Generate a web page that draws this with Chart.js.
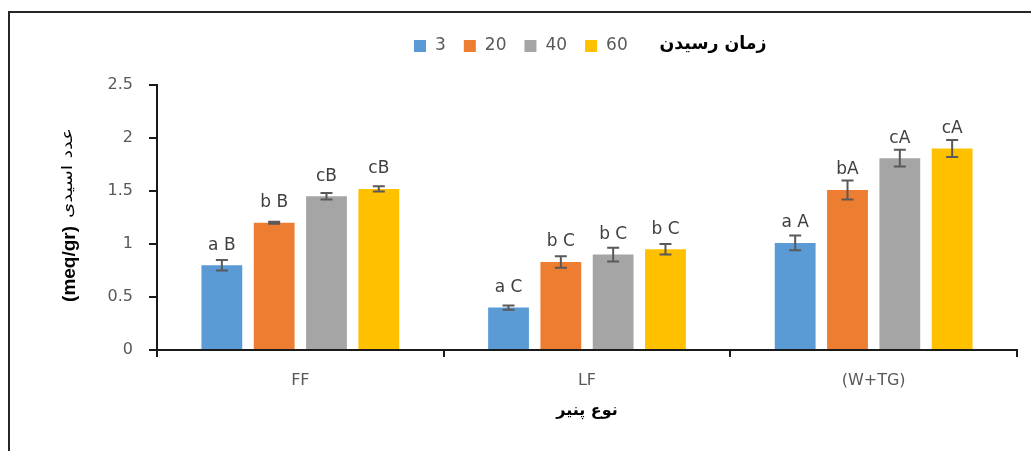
<!DOCTYPE html>
<html>
<head>
<meta charset="utf-8">
<script src="https://cdn.jsdelivr.net/npm/chart.js@4/dist/chart.umd.min.js"></script>
<style>
  html, body { margin: 0; padding: 0; background: #fff; }
  #wrap { position: absolute; left: 0; top: 0; width: 1031px; height: 451px; }
</style>
</head>
<body>
<div id="wrap"><canvas id="c" width="1031" height="451"></canvas></div>
<script>
// ---- data ----
const categories = ['FF', 'LF', '(W+TG)'];
const seriesNames = ['3', '20', '40', '60'];
const legendTitle = 'زمان رسیدن';
const xTitle = 'نوع پنیر';
const yTitleLatin = '(meq/gr)';
const yTitlePersian = 'عدد اسیدی';

const values3  = [0.80, 0.40, 1.01];
const values20 = [1.20, 0.83, 1.51];
const values40 = [1.45, 0.90, 1.81];
const values60 = [1.52, 0.95, 1.90];

const err3  = [0.05, 0.02, 0.07];
const err20 = [0.01, 0.055, 0.09];
const err40 = [0.03, 0.065, 0.08];
const err60 = [0.025, 0.05, 0.08];

const letters3  = ['a B', 'a C', 'a A'];
const letters20 = ['b B', 'b C', 'bA'];
const letters40 = ['cB', 'b C', 'cA'];
const letters60 = ['cB', 'b C', 'cA'];

const yTicks = [0, 0.5, 1, 1.5, 2, 2.5];
const yTickLabels = ['0', '0.5', '1', '1.5', '2', '2.5'];

// ---- styles ----
const colors = ['#5B9BD5', '#ED7D31', '#A5A5A5', '#FFC000'];
const FONT = 'DejaVu Sans';

const allValues = [values3, values20, values40, values60];
const allErr = [err3, err20, err40, err60];
const allLetters = [letters3, letters20, letters40, letters60];

const datasets = seriesNames.map((n, i) => ({
  label: n,
  data: allValues[i],
  errors: allErr[i],
  letters: allLetters[i],
  backgroundColor: colors[i],
  borderWidth: 0,
  categoryPercentage: 0.73,
  barPercentage: 0.78
}));

const framePlugin = {
  id: 'frame',
  beforeDraw(chart) {
    const ctx = chart.ctx;
    ctx.save();
    ctx.fillStyle = '#fff';
    ctx.fillRect(0, 0, chart.width, chart.height);
    ctx.strokeStyle = '#262626';
    ctx.lineWidth = 2;
    ctx.strokeRect(9, 12, chart.width + 20, chart.height + 20);
    ctx.restore();
  }
};

const errPlugin = {
  id: 'errbars',
  afterDatasetsDraw(chart) {
    const ctx = chart.ctx;
    const ys = chart.scales.y;
    ctx.save();
    chart.data.datasets.forEach((ds, i) => {
      const meta = chart.getDatasetMeta(i);
      meta.data.forEach((bar, j) => {
        const v = ds.data[j], e = ds.errors[j];
        const yt = ys.getPixelForValue(v + e);
        const yb = ys.getPixelForValue(v - e);
        const x = bar.x;
        ctx.strokeStyle = '#595959';
        ctx.lineWidth = 2;
        ctx.beginPath();
        ctx.moveTo(x, yt); ctx.lineTo(x, yb);
        ctx.moveTo(x - 6, yt); ctx.lineTo(x + 6, yt);
        ctx.moveTo(x - 6, yb); ctx.lineTo(x + 6, yb);
        ctx.stroke();
        ctx.fillStyle = '#404040';
        ctx.font = '17px "' + FONT + '"';
        ctx.textAlign = 'center';
        ctx.textBaseline = 'middle';
        ctx.fillText(ds.letters[j], x, bar.y - 20);
      });
    });
    ctx.restore();
  }
};

const extrasPlugin = {
  id: 'extras',
  afterDraw(chart) {
    const ctx = chart.ctx;
    ctx.save();
    // legend
    let x = 414;
    const cy = 46;
    ctx.font = '17px "' + FONT + '"';
    ctx.textBaseline = 'middle';
    ctx.textAlign = 'left';
    chart.data.datasets.forEach((ds) => {
      ctx.fillStyle = ds.backgroundColor;
      ctx.fillRect(x, cy - 6, 12, 12);
      x += 12 + 9;
      ctx.fillStyle = '#595959';
      ctx.fillText(ds.label, x, cy);
      x += ctx.measureText(ds.label).width + 18;
    });
    // legend title
    ctx.font = 'bold 18px "' + FONT + '"';
    ctx.fillStyle = '#000';
    const tw = ctx.measureText(legendTitle).width;
    const sx = Math.min(1.2, 107 / tw);
    ctx.save();
    ctx.translate(713, cy - 2);
    ctx.scale(sx, 1);
    ctx.textAlign = 'center';
    ctx.fillText(legendTitle, 0, 0);
    ctx.restore();

    // y title (rotated)
    ctx.save();
    ctx.translate(70, 215);
    ctx.rotate(-Math.PI / 2);
    ctx.textBaseline = 'middle';
    ctx.textAlign = 'left';
    const latinFont = 'bold 19px "Liberation Sans"';
    const persFont = '15px "' + FONT + '"';
    ctx.font = latinFont;
    const w1 = ctx.measureText(yTitleLatin).width;
    ctx.font = persFont;
    const w2 = ctx.measureText(yTitlePersian).width;
    const s2 = Math.min(1.3, 92 / w2);
    const gap = 8;
    const total = w1 + gap + w2 * s2;
    const start = -total / 2;
    ctx.fillStyle = '#000';
    ctx.font = latinFont;
    ctx.fillText(yTitleLatin, start, 0);
    ctx.font = persFont;
    ctx.translate(start + w1 + gap, -2);
    ctx.scale(s2, 1);
    ctx.fillText(yTitlePersian, 0, 0);
    ctx.restore();

    ctx.restore();
  }
};

new Chart(document.getElementById('c'), {
  type: 'bar',
  data: { labels: categories, datasets },
  options: {
    responsive: false,
    devicePixelRatio: 1,
    animation: false,
    layout: { padding: { top: 85, right: 14, left: 0, bottom: 0 } },
    plugins: { legend: { display: false }, tooltip: { enabled: false } },
    scales: {
      x: {
        afterFit(s) { s.height = 101; },
        grid: { display: true, offset: true, drawOnChartArea: false, drawTicks: true, tickLength: 7, color: '#1a1a1a', lineWidth: 2 },
        border: { display: true, color: '#1a1a1a', width: 2 },
        ticks: { color: '#595959', font: { family: FONT, size: 16 }, padding: 14 },
        title: { display: true, text: xTitle, color: '#000', font: { family: FONT, size: 16, weight: 'bold' }, padding: { top: 0, bottom: 31 } }
      },
      y: {
        min: 0, max: 2.5,
        afterFit(s) { s.width = 157; },
        afterBuildTicks(s) { s.ticks = yTicks.map(v => ({ value: v })); },
        grid: { display: true, drawOnChartArea: false, drawTicks: true, tickLength: 8, color: '#1a1a1a', lineWidth: 2 },
        border: { display: true, color: '#1a1a1a', width: 2 },
        ticks: {
          color: '#595959', font: { family: FONT, size: 16 }, padding: 16,
          callback: (v) => yTickLabels[yTicks.indexOf(v)]
        }
      }
    }
  },
  plugins: [framePlugin, errPlugin, extrasPlugin]
});
</script>
</body>
</html>
